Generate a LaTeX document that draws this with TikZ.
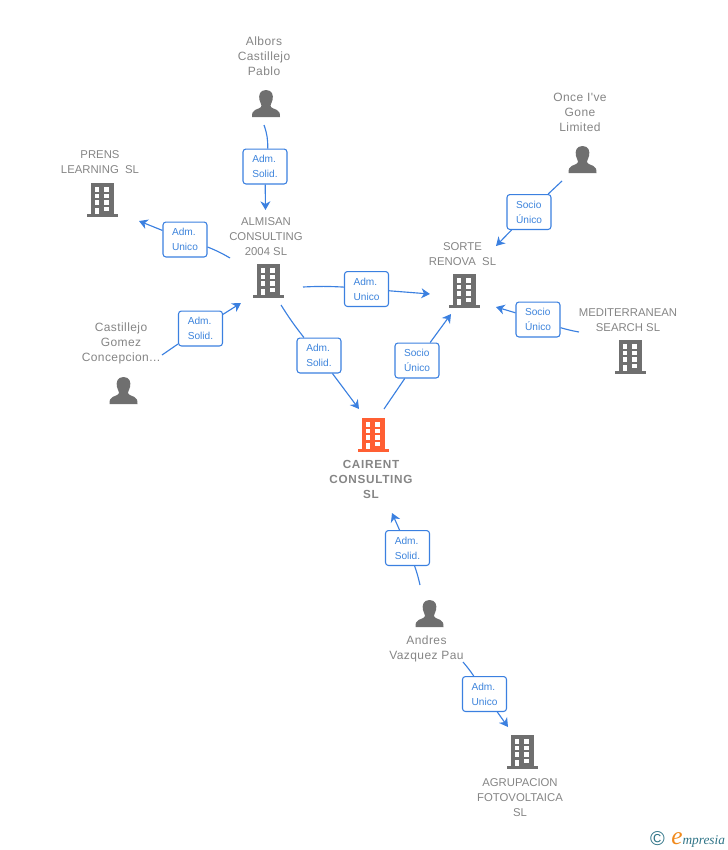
\documentclass[tikz,border=0pt]{standalone}
\usepackage{fontspec}
\setmainfont{Liberation Sans}
\newfontfamily\spacedfont[LetterSpace=6]{Liberation Sans}
\newfontfamily\namefont[LetterSpace=3.5]{Liberation Sans}
\newfontfamily\logofont{Liberation Serif}
\usetikzlibrary{arrows.meta}
\definecolor{iconGray}{HTML}{6F6F6F}
\definecolor{textGray}{HTML}{858585}
\definecolor{linkBlue}{HTML}{3B80E0}
\definecolor{linkText}{HTML}{3D84DC}
\definecolor{mainOrange}{HTML}{FF5F33}
\definecolor{logoTeal}{HTML}{2F7487}
\definecolor{logoOrange}{HTML}{F08A1D}
\tikzset{
  x=0.75pt,y=-0.75pt,
  rolebox/.style={draw=linkBlue,line width=0.8pt,rounded corners=2.2pt,fill=white,
    minimum width=33pt,minimum height=26.2pt,inner sep=0pt,align=left,
    text=linkText,font=\fontsize{7.6pt}{11.2pt}\selectfont},
  entity/.style={align=center,text=textGray,font=\fontsize{8.5pt}{11.25pt}\selectfont,inner sep=0pt},
  personname/.style={align=center,text=textGray,font=\fontsize{9pt}{11.25pt}\namefont\selectfont,inner sep=0pt},
  mainname/.style={align=center,text=textGray,font=\fontsize{8.8pt}{11.25pt}\spacedfont\bfseries\selectfont,inner sep=0pt},
  link/.style={draw=linkBlue,line width=0.85pt},
  linkarrow/.style={link,-{Stealth[length=6.5pt,width=7.5pt,inset=2pt]}},
  pics/building/.style={code={
    \fill[#1] (-11.5,-16.7) rectangle (11.5,15);
    \fill[#1] (-15.5,14) rectangle (15.5,17.3);
    \foreach \cx in {-5,4.7}{\foreach \cy in {-10.7,-4,2.3}{
      \fill[white] (\cx-2.3,\cy-2.2) rectangle (\cx+2.3,\cy+2.2);}}
    \fill[white] (-7.3,7.7) rectangle (-2.7,14);
    \fill[white] (2.4,6.8) rectangle (7,11.2);
  }},
  pics/building/.default=iconGray,
  pics/person/.style={code={
    \fill[iconGray] (0,-13.5) .. controls (-6.5,-13.5) and (-7.5,-8) .. (-6.5,-3.5)
      .. controls (-6,-1) and (-5,0) .. (-4.5,2)
      .. controls (-4.5,4.5) and (-8,5) .. (-11,6.5)
      .. controls (-13.5,7.5) and (-14,10) .. (-14,13.5)
      -- (14,13.5)
      .. controls (14,10) and (13.5,7.5) .. (11,6.5)
      .. controls (8,5) and (4.5,4.5) .. (4.5,2)
      .. controls (5,0) and (6,-1) .. (6.5,-3.5)
      .. controls (7.5,-8) and (6.5,-13.5) .. (0,-13.5) -- cycle;
  }}
}
\begin{document}
\begin{tikzpicture}
\useasboundingbox (0,0) rectangle (728,850);

% icons
\pic at (266,103.5) {person};
\pic at (582.5,159.5) {person};
\pic at (123.5,390.5) {person};
\pic at (429.5,613.5) {person};
\pic at (102,200) {building};
\pic at (268,281) {building};
\pic at (464,291) {building};
\pic at (630,357) {building};
\pic at (522,752) {building};
\pic at (373,435) {building=mainOrange};

% names
\node[personname] (albors) at (264,56) {Albors\\Castillejo\\Pablo};
\node[personname] (once) at (580,112) {Once I've\\Gone\\Limited};
\node[personname] (castillejo) at (121,343) {Castillejo\\Gomez\\Concepcion...};
\node[personname] (andres) at (426.5,649) {Andres\\Vazquez Pau};
\node[entity] (prens) at (100,162) {PRENS\\LEARNING\ \ SL};
\node[entity] (almisan) at (266,236.5) {ALMISAN\\CONSULTING\\2004 SL};
\node[entity] (sorte) at (462.5,254) {SORTE\\RENOVA\ \ SL};
\node[entity] (medit) at (628,320) {MEDITERRANEAN\\SEARCH SL};
\node[entity] (agrup) at (520,797.5) {AGRUPACION\\FOTOVOLTAICA\\SL};
\node[mainname] (cairent) at (371,479) {CAIRENT\\CONSULTING\\SL};

% role boxes
\node[rolebox] (r1) at (265,166.5) {Adm.\\Solid.};
\node[rolebox] (r2) at (185,239.5) {Adm.\\Unico};
\node[rolebox] (r3) at (200.5,328.5) {Adm.\\Solid.};
\node[rolebox] (r4) at (366.5,289) {Adm.\\Unico};
\node[rolebox] (r5) at (319,355.5) {Adm.\\Solid.};
\node[rolebox] (r6) at (417,360.5) {Socio\\Único};
\node[rolebox] (r7) at (529,212) {Socio\\Único};
\node[rolebox] (r8) at (538,319.5) {Socio\\Único};
\node[rolebox] (r9) at (407.5,548) {Adm.\\Solid.};
\node[rolebox] (r10) at (484.5,694) {Adm.\\Unico};

% free ends of the connectors
\coordinate (s1) at (264,125);   \coordinate (e1) at (265.5,210);
\coordinate (s2) at (230,258);   \coordinate (e2) at (139,221);
\coordinate (s3) at (162,355);   \coordinate (e3) at (241,303);
\coordinate (s4) at (303,287);   \coordinate (e4) at (430,294);
\coordinate (s5) at (281,305);   \coordinate (e5) at (359,409);
\coordinate (s6) at (384,409);   \coordinate (e6) at (451,314);
\coordinate (s7) at (562,181);   \coordinate (e7) at (496,246);
\coordinate (s8) at (579,332);   \coordinate (e8) at (496,307);
\coordinate (s9) at (420,585);   \coordinate (e9) at (392,513);
\coordinate (s10) at (463,662);  \coordinate (e10) at (508,727);

% connectors
\draw[link] (s1) to[bend left=10] (r1);
\draw[linkarrow] (r1) -- (e1);
\draw[link] (s2) to[bend right=4] (r2);
\draw[linkarrow] (r2) -- (e2);
\draw[link] (s3) -- (r3);
\draw[linkarrow] (r3) -- (e3);
\draw[link] (s4) to[bend left=3] (r4);
\draw[linkarrow] (r4) -- (e4);
\draw[link] (s5) to[bend right=3] (r5);
\draw[linkarrow] (r5) -- (e5);
\draw[link] (s6) -- (r6);
\draw[linkarrow] (r6) -- (e6);
\draw[link] (s7) -- (r7);
\draw[linkarrow] (r7) -- (e7);
\draw[link] (s8) to[bend left=3] (r8);
\draw[linkarrow] (r8) -- (e8);
\draw[link] (s9) to[bend right=3] (r9);
\draw[linkarrow] (r9) -- (e9);
\draw[link] (s10) to[bend left=3] (r10);
\draw[linkarrow] (r10) -- (e10);

% logo
\node[text=logoTeal,inner sep=0pt,font=\fontsize{15pt}{15pt}\selectfont] (copyr) at (657.5,839) {©};
\node[anchor=base west,inner sep=0pt,font=\fontsize{12pt}{12pt}\logofont\itshape\selectfont] (logo) at (671,844)
  {\textcolor{logoOrange}{\fontsize{19pt}{19pt}\selectfont e}\textcolor{logoTeal}{\fontsize{10pt}{10pt}\selectfont mpresia}};
\end{tikzpicture}
\end{document}
